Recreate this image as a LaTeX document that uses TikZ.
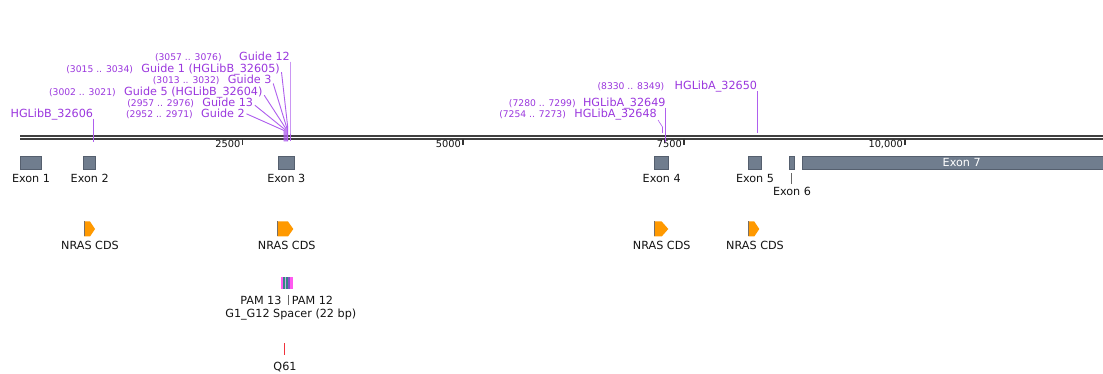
\documentclass[tikz,border=0pt]{standalone}
\usepackage{fontspec}
\setmainfont{DejaVu Sans}
\definecolor{guide}{RGB}{155,55,222}
\definecolor{guideln}{RGB}{175,95,238}
\definecolor{exon}{RGB}{112,125,142}
\definecolor{exonedge}{RGB}{85,95,110}
\definecolor{cds}{RGB}{255,153,0}
\definecolor{cdsedge}{RGB}{120,110,100}
\definecolor{txt}{RGB}{20,20,20}
\definecolor{pamA}{RGB}{255,90,240}
\definecolor{pamB}{RGB}{50,135,135}
\definecolor{pamC}{RGB}{200,170,230}
\definecolor{pamD}{RGB}{140,80,200}
\definecolor{qred}{RGB}{240,50,60}
\begin{document}
\begin{tikzpicture}[x=1pt,y=-1pt,
  lbl/.style={font=\fontsize{11.2}{13}\selectfont, text=txt, inner sep=0pt, anchor=base},
  gname/.style={font=\fontsize{11.2}{13}\selectfont, text=guide, inner sep=0pt, anchor=base east},
  gcoord/.style={font=\fontsize{9.2}{11}\selectfont, text=guide, inner sep=0pt, anchor=base east},
  gline/.style={draw=guideln, line width=0.9pt},
  exonbox/.style={fill=exon, draw=exonedge, line width=0.5pt, inner sep=0pt, anchor=north west, minimum height=13},
  ticklbl/.style={font=\fontsize{9.8}{11}\selectfont, text=txt, inner sep=0pt, anchor=base east},
  tickmark/.style={draw=black!80, line width=1.2pt},
  bbline/.style={draw=black!75, line width=1.4pt},
  cdsarrow/.style={fill=cds, draw=none},
  cdsleft/.style={draw=cdsedge, line width=0.8pt},
  ]
\fill[white] (0,0) rectangle (1103,374);
\useasboundingbox (0,0) rectangle (1103,374);

% backbone
\coordinate (bbL1) at (20,136);
\coordinate (bbR1) at (1103,136);
\coordinate (bbL2) at (20,139.2);
\coordinate (bbR2) at (1103,139.2);
\draw[bbline] (bbL1) -- (bbR1);
\draw[bbline] (bbL2) -- (bbR2);

% ticks
\foreach \tx/\tl/\tn in {242.5/2500/t1, 463/5000/t2, 684/7500/t3, 905/{10,000}/t4}{
  \coordinate (\tn a) at (\tx,139);
  \coordinate (\tn b) at (\tx,145.5);
  \draw[tickmark] (\tn a) -- (\tn b);
  \node[ticklbl] (\tn l) at (\tx-2,147.5) {\tl};
}

% exons
\node[exonbox, minimum width=20.7] (e1) at (20,156) {};
\node[exonbox, minimum width=12] (e2) at (83,156) {};
\node[exonbox, minimum width=16.3] (e3) at (277.7,156) {};
\node[exonbox, minimum width=14] (e4) at (654,156) {};
\node[exonbox, minimum width=12.7] (e5) at (748,156) {};
\node[exonbox, minimum width=5] (e6) at (789,156) {};
\node[exonbox, minimum width=305] (e7) at (801.7,156) {};
\node[lbl] (le1) at (31,183) {Exon 1};
\node[lbl] (le2) at (89.7,183) {Exon 2};
\node[lbl] (le3) at (286.3,183) {Exon 3};
\node[lbl] (le4) at (661.7,183) {Exon 4};
\node[lbl] (le5) at (755,183) {Exon 5};
\node[lbl] (le6) at (792,195.5) {Exon 6};
\node[lbl, text=white] (le7) at (961.7,167) {Exon 7};
\coordinate (e6t) at (791.5,173.3);
\draw[draw=black!60, line width=0.6pt] (e6t) -- ([yshift=2.5]le6.north -| e6t);

% CDS arrows
\foreach \xa/\xb/\xc/\cn in {84/90/95/a1, 277.3/288/293.3/a2, 654/661.7/668.3/a3, 748.3/754.3/759.3/a4}{
  \coordinate (\cn tl) at (\xa,221.5);
  \coordinate (\cn bl) at (\xa,236.5);
  \fill[cds] (\cn tl) -- (\xb,221.5) -- (\xc,229) -- (\xb,236.5) -- (\cn bl) -- cycle;
  \draw[cdsleft] (\cn tl) -- (\cn bl);
}
\node[lbl] (lc1) at (90,249) {NRAS CDS};
\node[lbl] (lc2) at (286.7,249) {NRAS CDS};
\node[lbl] (lc3) at (661.7,249) {NRAS CDS};
\node[lbl] (lc4) at (755,249) {NRAS CDS};

% PAM / spacer bar
\fill[pamA] (281,276.7) rectangle (283,289);
\fill[pamB] (283,276.7) rectangle (284.5,289);
\fill[pamC] (284.5,276.7) rectangle (286.3,289);
\fill[pamB] (286.3,276.7) rectangle (288.2,289);
\fill[pamD] (288.2,276.7) rectangle (289.7,289);
\fill[pamA] (289.7,276.7) rectangle (292.7,289);
\node[lbl, anchor=base east] (pam13) at (281.7,304) {PAM 13};
\node[lbl, anchor=base west] (pam12) at (291.7,304) {PAM 12};
\node[lbl] (spacer) at (290.8,317) {G1\_G12 Spacer (22 bp)};
\coordinate (pamt) at (288.3,295);
\coordinate (pamb) at (288.3,305);
\draw[draw=black!60, line width=0.6pt] (pamt) -- (pamb);

% Q61
\coordinate (qt) at (284.3,343.3);
\coordinate (qb) at (284.3,355);
\draw[draw=qred, line width=0.9pt] (qt) -- (qb);
\node[lbl] (q61) at (285,370) {Q61};

% left guide labels
\node[gname] (hb) at (93.3,118) {HGLibB\_32606};
\coordinate (hbb) at (93.3,142);
\draw[gline] ([yshift=-1]hb.base east) -- (hbb);

\node[gname] (g12) at (290,60.7) {Guide 12};
\node[gcoord] (c12) at ([xshift=-17]g12.base west) {(3057 .. 3076)};
\node[gname] (g1) at (280,72.2) {Guide 1 (HGLibB\_32605)};
\node[gcoord] (c1) at ([xshift=-8]g1.base west) {(3015 .. 3034)};
\node[gname] (g3) at (271.7,83.5) {Guide 3};
\node[gcoord] (c3) at ([xshift=-8]g3.base west) {(3013 .. 3032)};
\node[gname] (g5) at (262.7,95.2) {Guide 5 (HGLibB\_32604)};
\node[gcoord] (c5) at ([xshift=-8]g5.base west) {(3002 .. 3021)};
\node[gname] (g13) at (253.3,106.7) {Guide 13};
\node[gcoord] (c13) at ([xshift=-8]g13.base west) {(2957 .. 2976)};
\node[gname] (g2) at (245,118) {Guide 2};
\node[gcoord] (c2) at ([xshift=-8]g2.base west) {(2952 .. 2971)};

\coordinate (q12) at (290,127);   \coordinate (b12) at (290,141.5);
\coordinate (q1) at (287.6,126);  \coordinate (b1) at (287.6,141.5);
\coordinate (q3) at (286.7,127.5); \coordinate (b3) at (286.7,141.5);
\coordinate (q5) at (285.8,128.5); \coordinate (b5) at (285.8,141.5);
\coordinate (q13) at (284.9,129.5); \coordinate (b13) at (284.9,141.5);
\coordinate (q2) at (284,130.5);  \coordinate (b2) at (284,141.5);

\draw[gline] ([yshift=-1]g12.base east) -- (q12) -- (b12);
\draw[gline] ([shift={(1.5,0)}]g1.base east) -- (q1) -- (b1);
\draw[gline] ([shift={(1.5,0)}]g3.base east) -- (q3) -- (b3);
\draw[gline] ([shift={(1.5,0)}]g5.base east) -- (q5) -- (b5);
\draw[gline] ([shift={(1.5,-1.5)}]g13.base east) -- (q13) -- (b13);
\draw[gline] ([shift={(1.5,0)}]g2.east) -- (q2) -- (b2);

% right guide labels
\node[gname] (h50) at (757.3,89.3) {HGLibA\_32650};
\node[gcoord] (c50) at ([xshift=-10]h50.base west) {(8330 .. 8349)};
\node[gname] (h49) at (665.7,106.7) {HGLibA\_32649};
\node[gcoord] (c49) at ([xshift=-7]h49.base west) {(7280 .. 7299)};
\node[gname] (h48) at (657,118) {HGLibA\_32648};
\node[gcoord] (c48) at ([xshift=-8]h48.base west) {(7254 .. 7273)};

\coordinate (h50b) at (757.3,133);
\coordinate (h49b) at (665.7,142);
\coordinate (h48m) at (662.5,127);
\coordinate (h48b) at (662.5,133);
\draw[gline] ([yshift=-2]h50.base east) -- (h50b);
\draw[gline] ([yshift=-1]h49.base east) -- (h49b);
\draw[gline, line width=0.6pt] ([shift={(1,2)}]h48.base east) -- (h48m) -- (h48b);
\end{tikzpicture}
\end{document}
